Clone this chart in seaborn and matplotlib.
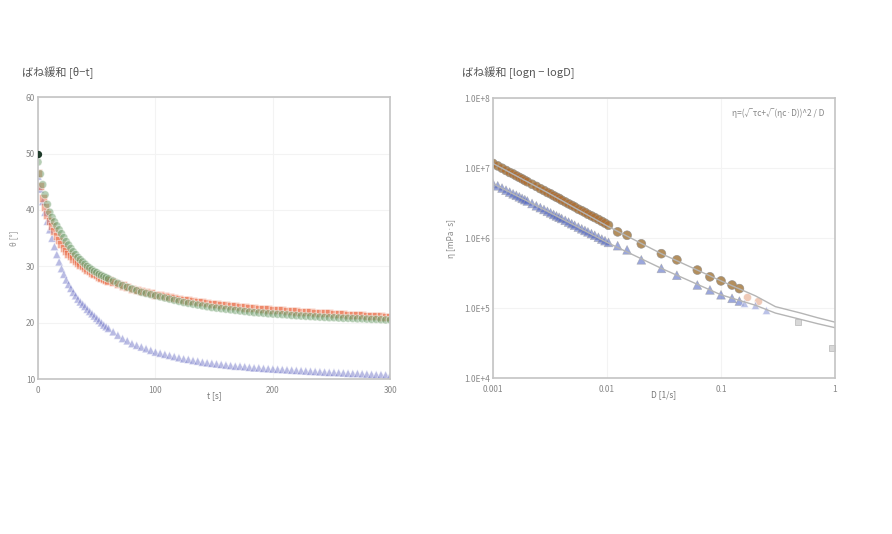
import numpy as np
import pandas as pd
import matplotlib
matplotlib.use('Agg')
import matplotlib.pyplot as plt
import seaborn as sns

# ---- left panel: theta - t (every 2 s up to 60 s, then every 4 s)
t_s = list(range(0, 61, 2)) + list(range(64, 301, 4))
theta_green = [48.5, 46.4, 44.5, 42.7, 41.0, 39.6, 38.7, 37.9, 37.2, 36.5, 35.8, 35.1, 34.4, 33.8, 33.2, 32.6,
               32.1, 31.6, 31.2, 30.8, 30.4, 30.0, 29.7, 29.4, 29.1, 28.9, 28.6, 28.4, 28.2, 28.0, 27.8,
               27.4, 27.0, 26.6, 26.3, 26.0, 25.7, 25.4, 25.2, 25.0, 24.8, 24.6, 24.4, 24.2, 24.0, 23.8,
               23.6, 23.45, 23.3, 23.15, 23.0, 22.85, 22.7, 22.6, 22.5, 22.4, 22.3, 22.2, 22.1, 22.0, 21.9,
               21.8, 21.75, 21.7, 21.6, 21.55, 21.5, 21.45, 21.4, 21.3, 21.25, 21.2, 21.15, 21.1, 21.05, 21.0,
               20.95, 20.9, 20.9, 20.85, 20.8, 20.8, 20.75, 20.7, 20.7, 20.65, 20.6, 20.6, 20.55, 20.5, 20.5]
theta_red = [46.5, 44.2, 42.2, 40.5, 39.2, 38.1, 37.1, 36.2, 35.4, 34.6, 33.9, 33.3, 32.7, 32.2, 31.8, 31.4,
             31.0, 30.6, 30.3, 30.0, 29.7, 29.4, 29.1, 28.8, 28.6, 28.4, 28.2, 28.0, 27.8, 27.6, 27.5,
             27.2, 26.9, 26.6, 26.3, 26.0, 25.8, 25.6, 25.4, 25.2, 25.0, 24.85, 24.7, 24.55, 24.4, 24.25,
             24.1, 23.95, 23.8, 23.7, 23.6, 23.5, 23.4, 23.3, 23.2, 23.1, 23.0, 22.9, 22.8, 22.7, 22.6,
             22.55, 22.5, 22.4, 22.35, 22.3, 22.25, 22.2, 22.1, 22.05, 22.0, 21.95, 21.9, 21.85, 21.8, 21.75,
             21.7, 21.65, 21.6, 21.55, 21.5, 21.45, 21.4, 21.35, 21.3, 21.25, 21.2, 21.15, 21.1, 21.05, 21.0]
theta_blue = [46.0, 43.7, 41.5, 39.6, 38.0, 36.5, 35.0, 33.5, 32.1, 30.8, 29.6, 28.6, 27.6, 26.8, 26.1, 25.4,
              24.8, 24.2, 23.7, 23.3, 22.9, 22.4, 22.0, 21.6, 21.2, 20.8, 20.4, 20.0, 19.6, 19.3, 19.0,
              18.4, 17.8, 17.2, 16.8, 16.3, 16.0, 15.7, 15.4, 15.1, 14.8, 14.6, 14.4, 14.2, 14.0, 13.8,
              13.6, 13.5, 13.3, 13.2, 13.0, 12.9, 12.8, 12.7, 12.6, 12.5, 12.4, 12.3, 12.3, 12.2, 12.1,
              12.0, 12.0, 11.9, 11.85, 11.8, 11.75, 11.7, 11.65, 11.6, 11.55, 11.5, 11.45, 11.4, 11.35, 11.3,
              11.25, 11.2, 11.2, 11.15, 11.1, 11.05, 11.0, 11.0, 10.95, 10.9, 10.85, 10.8, 10.8, 10.75, 10.7]

# ---- right panel: log eta - log D
D = [0.0010, 0.0011, 0.0012, 0.0013, 0.0014, 0.0015, 0.0016, 0.0017, 0.0018, 0.0019, 0.0020, 0.0022,
     0.0024, 0.0026, 0.0028, 0.0030, 0.0032, 0.0034, 0.0036, 0.0038, 0.0040, 0.0043, 0.0046, 0.0049,
     0.0052, 0.0056, 0.0060, 0.0064, 0.0068, 0.0073, 0.0078, 0.0084, 0.0090, 0.0096, 0.0103, 0.0124,
     0.0150, 0.0200, 0.0300, 0.0410, 0.0620, 0.0800, 0.1000, 0.1250, 0.1450]
eta_upper = [1.17e7, 1.08e7, 1.00e7, 9.3e6, 8.7e6, 8.3e6, 7.8e6, 7.4e6, 7.05e6, 6.7e6, 6.4e6, 5.9e6,
             5.5e6, 5.1e6, 4.8e6, 4.5e6, 4.3e6, 4.05e6, 3.85e6, 3.7e6, 3.5e6, 3.3e6, 3.1e6, 2.95e6,
             2.8e6, 2.6e6, 2.47e6, 2.34e6, 2.2e6, 2.08e6, 1.97e6, 1.85e6, 1.74e6, 1.64e6, 1.53e6, 1.23e6,
             1.10e6, 8.3e5, 6.0e5, 4.9e5, 3.5e5, 2.8e5, 2.45e5, 2.14e5, 1.9e5]
eta_lower = [6.0e6, 5.6e6, 5.2e6, 4.85e6, 4.55e6, 4.3e6, 4.1e6, 3.9e6, 3.7e6, 3.55e6, 3.4e6, 3.13e6,
             2.9e6, 2.73e6, 2.57e6, 2.42e6, 2.3e6, 2.18e6, 2.08e6, 1.99e6, 1.91e6, 1.8e6, 1.7e6, 1.61e6,
             1.53e6, 1.44e6, 1.36e6, 1.29e6, 1.23e6, 1.16e6, 1.1e6, 1.03e6, 9.7e5, 9.2e5, 8.7e5, 7.8e5,
             6.8e5, 4.9e5, 3.7e5, 2.95e5, 2.14e5, 1.82e5, 1.55e5, 1.38e5, 1.26e5]
D_pale_c = [0.17, 0.21]
eta_pale_c = [1.45e5, 1.26e5]
D_pale_t = [0.16, 0.20, 0.25]
eta_pale_t = [1.2e5, 1.1e5, 9.3e4]
D_out = [0.47, 0.95]
eta_out = [6.3e4, 2.65e4]

D_fit = [0.001, 0.003, 0.01, 0.03, 0.1, 0.2, 0.3, 0.5, 0.7, 1.0]
fit_upper = [1.17e7, 4.5e6, 1.5e6, 6.0e5, 2.45e5, 1.5e5, 1.05e5, 8.5e4, 7.3e4, 6.3e4]
fit_lower = [6.0e6, 2.42e6, 8.7e5, 3.7e5, 1.55e5, 1.1e5, 8.5e4, 6.9e4, 6.0e4, 5.25e4]

sns.set_style('white')
plt.rcParams['font.family'] = ['Noto Sans CJK JP', 'DejaVu Sans']

fig = plt.figure(figsize=(8.92, 5.34), dpi=100)
ax1 = fig.add_axes([0.0426, 0.290, 0.395, 0.528])
ax2 = fig.add_axes([0.5527, 0.292, 0.3834, 0.524])

left = pd.DataFrame({
    't': t_s * 3,
    'theta': theta_blue + theta_red + theta_green,
    'series': ['blue'] * len(t_s) + ['red'] * len(t_s) + ['green'] * len(t_s),
})
sns.scatterplot(data=left, x='t', y='theta', hue='series', style='series',
                palette={'green': '#6f9e6c', 'red': '#e8643c', 'blue': '#7479c9'},
                markers={'green': 'o', 'red': 's', 'blue': '^'},
                s=34, alpha=0.5, linewidth=0.6, legend=False, ax=ax1)
ax1.scatter([0], [50], s=18, color='#1e3a2a', zorder=5)

ax1.set_xlim(0, 300)
ax1.set_ylim(10, 60)
ax1.set_xticks([0, 100, 200, 300])
ax1.set_yticks([10, 20, 30, 40, 50, 60])
ax1.set_xlabel('t [s]', fontsize=6, color='#777777', labelpad=-3)
ax1.set_ylabel('θ [°]', fontsize=6, color='#999999', labelpad=6)

right = pd.DataFrame({
    'D': D * 3,
    'eta': eta_lower + eta_upper + eta_upper,
    'series': ['blue'] * len(D) + ['green'] * len(D) + ['red'] * len(D),
})
sns.lineplot(x=D_fit, y=fit_upper, color='#b5b5b5', linewidth=1.0, ax=ax2)
sns.lineplot(x=D_fit, y=fit_lower, color='#b5b5b5', linewidth=1.0, ax=ax2)
sns.scatterplot(data=right, x='D', y='eta', hue='series', style='series',
                palette={'green': '#6a8c50', 'red': '#b8682a', 'blue': '#4a5fc0'},
                markers={'green': 'o', 'red': 'o', 'blue': '^'},
                s=40, alpha=0.55, edgecolor='#999999', linewidth=0.5, legend=False, ax=ax2)
sns.scatterplot(x=D_pale_c, y=eta_pale_c, color='#e9b49a', s=34, alpha=0.7, marker='o', ax=ax2)
sns.scatterplot(x=D_pale_t, y=eta_pale_t, color='#9fa8dd', s=34, alpha=0.7, marker='^', ax=ax2)
sns.scatterplot(x=D_out, y=eta_out, color='#d8d8d8', edgecolor='#aaaaaa', s=25, marker='s', ax=ax2)

ax2.set_xscale('log')
ax2.set_yscale('log')
ax2.set_xlim(0.001, 1)
ax2.set_ylim(1e4, 1e8)
ax2.set_xticks([0.001, 0.01, 0.1, 1])
ax2.set_xticklabels(['0.001', '0.01', '0.1', '1'])
ax2.set_yticks([1e4, 1e5, 1e6, 1e7, 1e8])
ax2.set_yticklabels(['1.0E+4', '1.0E+5', '1.0E+6', '1.0E+7', '1.0E+8'])
ax2.minorticks_off()
ax2.set_xlabel('D [1/s]', fontsize=6, color='#777777', labelpad=-3)
ax2.set_ylabel('η [mPa·s]', fontsize=6, color='#888888', labelpad=6)
ax2.text(0.97, 0.965, 'η=(√τc+√(ηc·D))^2 / D', transform=ax2.transAxes,
         ha='right', va='top', fontsize=6, color='#888888')

for ax in (ax1, ax2):
    ax.tick_params(labelsize=6, colors='#888888', length=0)
    ax.tick_params(axis='y', pad=2)
    ax.tick_params(axis='x', pad=5)
    ax.grid(True, color='#f3f3f3', linewidth=0.8)
    for sp in ax.spines.values():
        sp.set_color('#c4c4c4')
        sp.set_linewidth(1.2)

fig.text(0.0247, 0.863, 'ばね緩和 [θ−t]', fontsize=8, color='#555555', va='center')
fig.text(0.518, 0.863, 'ばね緩和 [logη − logD]', fontsize=8, color='#555555', va='center')

fig.savefig('out.png', dpi=100)
